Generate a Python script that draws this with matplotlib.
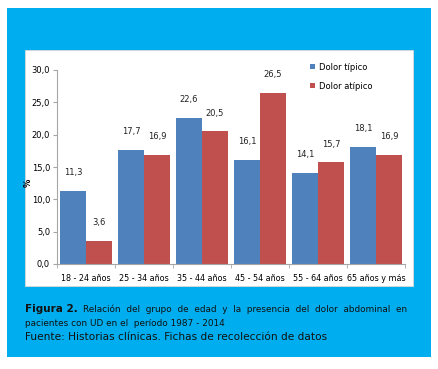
import numpy as np
import matplotlib.pyplot as plt
from matplotlib.patches import Rectangle

grupos = ['18 - 24 años', '25 - 34 años', '35 - 44 años', '45 - 54 años', '55 - 64 años', '65 años y más']
tipico = [11.3, 17.7, 22.6, 16.1, 14.1, 18.1]
atipico = [3.6, 16.9, 20.5, 26.5, 15.7, 16.9]
series = ['Dolor típico', 'Dolor atípico']
colores = ['#4F81BD', '#C0504D']

W, H = 438, 369
fig = plt.figure(figsize=(W / 100, H / 100), dpi=100)
fig.patch.set_facecolor('white')

# blue panel and white chart box
fig.patches.append(Rectangle((7 / W, 1 - 357 / H), 424 / W, 349 / H, transform=fig.transFigure,
                             facecolor='#00AEEF', edgecolor='none', zorder=0))
fig.patches.append(Rectangle((25 / W, 1 - 286 / H), 388 / W, 236 / H, transform=fig.transFigure,
                             facecolor='white', edgecolor='#D9D9D9', lw=0.6, zorder=1))

ax = fig.add_axes([57 / W, 1 - 264 / H, 348 / W, 194 / H])
ax.set_zorder(5)
ax.set_facecolor('none')
x = np.arange(len(grupos))
w = 0.45
b1 = ax.bar(x - w / 2, tipico, w, color=colores[0], label=series[0])
b2 = ax.bar(x + w / 2, atipico, w, color=colores[1], label=series[1])
for bars, vals in ((b1, tipico), (b2, atipico)):
    for r, v in zip(bars, vals):
        ax.annotate(f'{v:.1f}'.replace('.', ','), (r.get_x() + r.get_width() / 2, v),
                    xytext=(0, 10), textcoords='offset points', ha='center', va='bottom',
                    fontsize=6, color='#222222')

ax.set_xlim(-0.5, len(grupos) - 0.5)
ax.set_ylim(0, 30)
ax.set_yticks(np.arange(0, 31, 5))
ax.set_yticklabels([f'{v:.1f}'.replace('.', ',') for v in np.arange(0, 31, 5)], fontsize=6)
ax.set_xticks(x)
ax.set_xticklabels(grupos, fontsize=5.8)
ax.set_xticks(np.arange(-0.5, len(grupos)), minor=True)
ax.tick_params(axis='x', which='major', length=0, pad=7)
ax.tick_params(axis='x', which='minor', length=3, color='#A6A6A6')
ax.tick_params(axis='y', length=3, color='#A6A6A6', pad=2)
for s in ('top', 'right'):
    ax.spines[s].set_visible(False)
for s in ('left', 'bottom'):
    ax.spines[s].set_color('#A6A6A6')
    ax.spines[s].set_linewidth(0.8)
ax.set_ylabel('%', fontsize=6, fontweight='bold')
ax.yaxis.set_label_coords(-0.069, 0.418)

ax.legend(loc='upper left', bbox_to_anchor=(302 / W, 1 - 55 / H), bbox_transform=fig.transFigure,
          frameon=False, fontsize=6, handlelength=0.6, handleheight=0.6, labelspacing=1.2,
          handletextpad=0.5)

fig.text(25 / W, 1 - 309 / H, 'Figura 2.', fontsize=7.5, fontweight='bold', va='center', color='#111111')
fig.text(83 / W, 1 - 309 / H,
         'Relación  del  grupo  de  edad  y  la  presencia  del  dolor  abdominal  en',
         fontsize=6.4, va='center', color='#111111')
fig.text(25 / W, 1 - 323 / H, 'pacientes con UD en el  período 1987 - 2014',
         fontsize=6.4, va='center', color='#111111')
fig.text(25 / W, 1 - 337 / H, 'Fuente: Historias clínicas. Fichas de recolección de datos',
         fontsize=7.6, va='center', color='#111111')

fig.savefig('out.png', dpi=100)
